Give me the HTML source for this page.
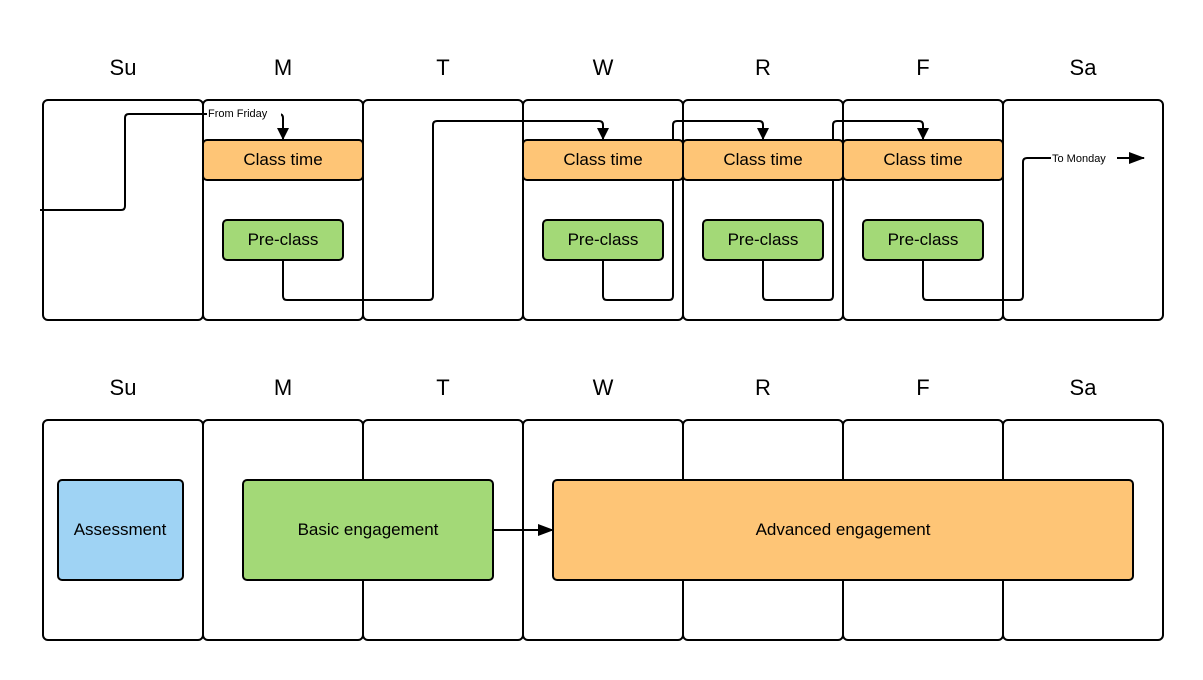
<!DOCTYPE html>
<html><head><style>
body{margin:0;background:#fff;}
svg{display:block;font-family:"Liberation Sans",sans-serif;}
</style></head><body>
<svg width="1203" height="680" viewBox="0 0 1203 680" xmlns="http://www.w3.org/2000/svg">
<defs><marker id="a" markerWidth="12" markerHeight="12" refX="11" refY="6" orient="auto" markerUnits="userSpaceOnUse"><path d="M0,0 L12,6 L0,12 z" fill="#000"/></marker>
<marker id="b" markerWidth="16" markerHeight="12" refX="15" refY="6" orient="auto" markerUnits="userSpaceOnUse"><path d="M0,0 L16,6 L0,12 z" fill="#000"/></marker></defs>
<g font-size="22" text-anchor="middle" fill="#000">
<text x="123" y="75">Su</text><text x="283" y="75">M</text><text x="443" y="75">T</text><text x="603" y="75">W</text><text x="763" y="75">R</text><text x="923" y="75">F</text><text x="1083" y="75">Sa</text>
<text x="123" y="395">Su</text><text x="283" y="395">M</text><text x="443" y="395">T</text><text x="603" y="395">W</text><text x="763" y="395">R</text><text x="923" y="395">F</text><text x="1083" y="395">Sa</text>
</g>
<g fill="#fff" stroke="#000" stroke-width="2">
<rect x="43" y="100" width="160" height="220" rx="5"/><rect x="203" y="100" width="160" height="220" rx="5"/><rect x="363" y="100" width="160" height="220" rx="5"/><rect x="523" y="100" width="160" height="220" rx="5"/><rect x="683" y="100" width="160" height="220" rx="5"/><rect x="843" y="100" width="160" height="220" rx="5"/><rect x="1003" y="100" width="160" height="220" rx="5"/>
<rect x="43" y="420" width="160" height="220" rx="5"/><rect x="203" y="420" width="160" height="220" rx="5"/><rect x="363" y="420" width="160" height="220" rx="5"/><rect x="523" y="420" width="160" height="220" rx="5"/><rect x="683" y="420" width="160" height="220" rx="5"/><rect x="843" y="420" width="160" height="220" rx="5"/><rect x="1003" y="420" width="160" height="220" rx="5"/>
</g>
<g fill="none" stroke="#000" stroke-width="2">
<path d="M40,210 H121 Q125,210 125,206 V118 Q125,114 129,114 H279 Q283,114 283,118 V139" marker-end="url(#a)"/>
<path d="M283,260 V296 Q283,300 287,300 H429 Q433,300 433,296 V125 Q433,121 437,121 H599 Q603,121 603,125 V139" marker-end="url(#a)"/>
<path d="M603,260 V296 Q603,300 607,300 H669 Q673,300 673,296 V125 Q673,121 677,121 H759 Q763,121 763,125 V139" marker-end="url(#a)"/>
<path d="M763,260 V296 Q763,300 767,300 H829 Q833,300 833,296 V125 Q833,121 837,121 H919 Q923,121 923,125 V139" marker-end="url(#a)"/>
<path d="M923,260 V296 Q923,300 927,300 H1019 Q1023,300 1023,296 V162 Q1023,158 1027,158 H1144" marker-end="url(#b)"/>
<path d="M493,530 H553" marker-end="url(#b)"/>
</g>
<rect x="207" y="105" width="74" height="15" fill="#fff"/>
<text x="208" y="117" font-size="11">From Friday</text>
<rect x="1051" y="151" width="66" height="14" fill="#fff"/>
<text x="1052" y="162" font-size="11">To Monday</text>
<g stroke="#000" stroke-width="2" fill="#fec576">
<rect x="203" y="140" width="160" height="40" rx="4"/><rect x="523" y="140" width="160" height="40" rx="4"/><rect x="683" y="140" width="160" height="40" rx="4"/><rect x="843" y="140" width="160" height="40" rx="4"/>
</g>
<g stroke="#000" stroke-width="2" fill="#a3d977">
<rect x="223" y="220" width="120" height="40" rx="4"/><rect x="543" y="220" width="120" height="40" rx="4"/><rect x="703" y="220" width="120" height="40" rx="4"/><rect x="863" y="220" width="120" height="40" rx="4"/>
</g>
<g font-size="17" text-anchor="middle">
<text x="283" y="165">Class time</text><text x="603" y="165">Class time</text><text x="763" y="165">Class time</text><text x="923" y="165">Class time</text>
<text x="283" y="245">Pre-class</text><text x="603" y="245">Pre-class</text><text x="763" y="245">Pre-class</text><text x="923" y="245">Pre-class</text>
</g>
<rect x="58" y="480" width="125" height="100" rx="4" fill="#9fd3f4" stroke="#000" stroke-width="2"/>
<rect x="243" y="480" width="250" height="100" rx="4" fill="#a3d977" stroke="#000" stroke-width="2"/>
<rect x="553" y="480" width="580" height="100" rx="4" fill="#fec576" stroke="#000" stroke-width="2"/>
<g font-size="17" text-anchor="middle">
<text x="120" y="535">Assessment</text><text x="368" y="535">Basic engagement</text><text x="843" y="535">Advanced engagement</text>
</g>
</svg>
</body></html>
